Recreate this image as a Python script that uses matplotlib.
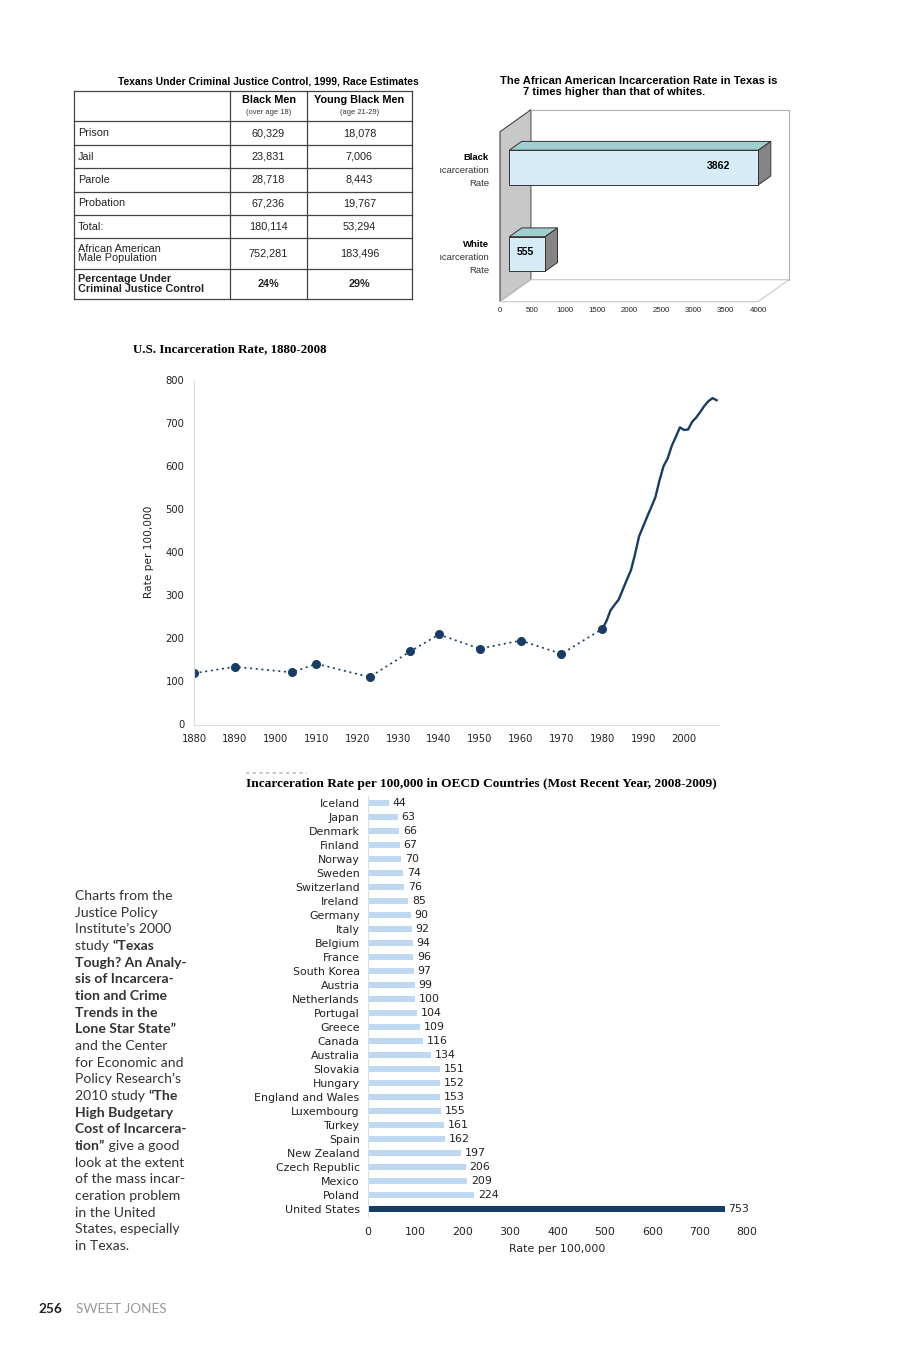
import numpy as np
import matplotlib.pyplot as plt
from matplotlib.patches import Polygon

W, H = 900, 1350

# ---------------- data ----------------
table_title = "Texans Under Criminal Justice Control, 1999, Race Estimates"
table_cols = ["Black Men", "Young Black Men"]
table_subcols = ["(over age 18)", "(age 21-29)"]
table_rows = ["Prison", "Jail", "Parole", "Probation", "Total:",
              "African American\nMale Population",
              "Percentage Under\nCriminal Justice Control"]
black_men = ["60,329", "23,831", "28,718", "67,236", "180,114", "752,281", "24%"]
young_black_men = ["18,078", "7,006", "8,443", "19,767", "53,294", "183,496", "29%"]

tx_groups = ["White", "Black"]
tx_rates = [555, 3862]
tx_ticks = [0, 500, 1000, 1500, 2000, 2500, 3000, 3500, 4000]

us_years_early = [1880, 1890, 1904, 1910, 1923, 1933, 1940, 1950, 1960, 1970, 1980]
us_rate_early = [119, 134, 121, 141, 110, 170, 209, 176, 195, 164, 222]
us_years_late = list(range(1980, 2009))
us_rate_late = [222, 240, 265, 278, 290, 313, 336, 358, 395, 437, 460, 483, 505,
                528, 567, 600, 618, 647, 668, 690, 684, 685, 703, 713, 726, 740,
                751, 758, 753]

oecd_countries = ["Iceland", "Japan", "Denmark", "Finland", "Norway", "Sweden",
                  "Switzerland", "Ireland", "Germany", "Italy", "Belgium", "France",
                  "South Korea", "Austria", "Netherlands", "Portugal", "Greece",
                  "Canada", "Australia", "Slovakia", "Hungary", "England and Wales",
                  "Luxembourg", "Turkey", "Spain", "New Zealand", "Czech Republic",
                  "Mexico", "Poland", "United States"]
oecd_rates = [44, 63, 66, 67, 70, 74, 76, 85, 90, 92, 94, 96, 97, 99, 100, 104,
              109, 116, 134, 151, 152, 153, 155, 161, 162, 197, 206, 209, 224, 753]

NAVY = "#173c66"
LIGHTBLUE = "#bdd8f0"


def box(left, top, right, bottom):
    # pixel box -> figure fraction
    return [left / W, 1 - bottom / H, (right - left) / W, (bottom - top) / H]


fig = plt.figure(figsize=(9, 13.5), dpi=100)
bg = fig.add_axes([0, 0, 1, 1])
bg.set_xlim(0, W)
bg.set_ylim(H, 0)
bg.axis("off")

# ---------------- table ----------------
sans = "Liberation Sans"
bg.text(268, 81, table_title, ha="center", va="center", fontsize=7.4,
        fontweight="bold", family=sans)
col_x = [74, 230, 307, 412]
row_y = [91, 121, 145, 168, 192, 215, 238, 269, 299]
for y in row_y:
    bg.plot([col_x[0], col_x[-1]], [y, y], color="#444444", lw=0.9)
for x in col_x:
    bg.plot([x, x], [row_y[0], row_y[-1]], color="#444444", lw=0.9)
for j in range(2):
    cx = (col_x[j + 1] + col_x[j + 2]) / 2
    bg.text(cx, 100, table_cols[j], ha="center", va="center", fontsize=7.8,
            fontweight="bold", family=sans)
    bg.text(cx, 112, table_subcols[j], ha="center", va="center", fontsize=5.4,
            family=sans, color="#333333")
for i, lab in enumerate(table_rows):
    yc = (row_y[i + 1] + row_y[i + 2]) / 2
    last = i == len(table_rows) - 1
    wt = "bold" if last else "normal"
    bg.text(78, yc, lab, ha="left", va="center", fontsize=7.8, family=sans,
            fontweight=wt, linespacing=0.9, color="#222222")
    for j, vals in enumerate([black_men, young_black_men]):
        cx = (col_x[j + 1] + col_x[j + 2]) / 2
        bg.text(cx, yc, vals[i], ha="center", va="center", fontsize=7.8,
                family=sans, fontweight=wt, color="#222222")

# ---------------- 3D bar chart (Texas) ----------------
bg.text(500, 81, "The African American Incarceration Rate in Texas is",
        ha="left", va="center", fontsize=8.1, fontweight="bold", family=sans)
bg.text(523, 92, "7 times higher than that of whites.",
        ha="left", va="center", fontsize=8.1, fontweight="bold", family=sans)

s = 258 / 4000          # px per unit
unit_y = 86.5           # px per category step
ax3 = fig.add_axes(box(440, 100, 800, 320))
ax3.set_xlim((440 - 500) / s, (800 - 500) / s)
ax3.set_ylim((254 - 320) / unit_y, (254 - 100) / unit_y)
ax3.axis("off")
dx = 31 / s
dy = 22 / unit_y
floor_y = (254 - 301.7) / unit_y
wall_top = (254 - 131.7) / unit_y
xmax = tx_ticks[-1]

ax3.add_patch(Polygon([(0, floor_y), (dx, floor_y + dy), (dx, wall_top + dy),
                       (0, wall_top)], closed=True, facecolor="#c8c8c8",
                      edgecolor="#444444", lw=0.8))
ax3.add_patch(Polygon([(dx, floor_y + dy), (xmax + dx, floor_y + dy),
                       (xmax + dx, wall_top + dy), (dx, wall_top + dy)],
                      closed=True, facecolor="white", edgecolor="#b0b0b0", lw=0.8))
ax3.add_patch(Polygon([(0, floor_y), (xmax, floor_y), (xmax + dx, floor_y + dy),
                       (dx, floor_y + dy)], closed=True, facecolor="white",
                      edgecolor="#c8c8c8", lw=0.8))

for k, (g, v) in enumerate(zip(tx_groups, tx_rates)):
    x0 = 0.3 * dx
    x1 = x0 + v
    lo, hi = k - 0.2, k + 0.2
    d = 0.4
    ax3.add_patch(Polygon([(x0, hi), (x1, hi), (x1 + d * dx, hi + d * dy),
                           (x0 + d * dx, hi + d * dy)], closed=True,
                          facecolor="#9fcfcf", edgecolor="#333333", lw=0.7))
    ax3.add_patch(Polygon([(x1, lo), (x1 + d * dx, lo + d * dy),
                           (x1 + d * dx, hi + d * dy), (x1, hi)], closed=True,
                          facecolor="#858585", edgecolor="#333333", lw=0.7))
    ax3.add_patch(Polygon([(x0, lo), (x1, lo), (x1, hi), (x0, hi)], closed=True,
                          facecolor="#d5ecf6", edgecolor="#333333", lw=0.7))
    ax3.text(x1 - min(40 / s, 0.55 * v), k + 0.02, str(v), ha="center",
             va="center", fontsize=7.6, fontweight="bold", family=sans)
    lx = -11 / s
    ax3.text(lx, k + 0.11, g, ha="right", va="center", fontsize=6.8,
             fontweight="bold", family=sans, clip_on=True)
    ax3.text(lx, k - 0.04, "Incarceration", ha="right", va="center",
             fontsize=6.8, family=sans, color="#333333", clip_on=True)
    ax3.text(lx, k - 0.19, "Rate", ha="right", va="center", fontsize=6.8,
             family=sans, color="#333333", clip_on=True)

for t in tx_ticks:
    ax3.text(t, (254 - 311) / unit_y, str(t), ha="center", va="center",
             fontsize=5.7, family=sans, color="#222222")

# ---------------- US incarceration line chart ----------------
bg.text(133, 349, "U.S. Incarceration Rate, 1880-2008", ha="left", va="center",
        fontsize=9.4, fontweight="bold", family="Liberation Serif")
ax1 = fig.add_axes(box(194, 380, 718.7, 724.5))
ax1.plot(us_years_early, us_rate_early, ls=(0, (1.2, 2.2)), lw=1.2, color=NAVY,
         marker="o", markersize=5.5)
ax1.plot(us_years_late, us_rate_late, color=NAVY, lw=1.7)
ax1.set_xlim(1880, 2008.5)
ax1.set_ylim(0, 800)
ax1.set_xticks(range(1880, 2001, 10))
ax1.set_yticks(range(0, 801, 100))
for sp in ["top", "right"]:
    ax1.spines[sp].set_visible(False)
for sp in ["left", "bottom"]:
    ax1.spines[sp].set_color("#dddddd")
    ax1.spines[sp].set_linewidth(0.8)
ax1.tick_params(length=0, labelsize=7.2, colors="#222222")
ax1.tick_params(axis="y", pad=7)
ax1.tick_params(axis="x", pad=7)
ax1.set_ylabel("Rate per 100,000", fontsize=7.6, color="#222222", labelpad=8)

# ---------------- OECD bar chart ----------------
bg.plot([246, 307], [773, 773], ls=(0, (2, 2)), color="#c0c0c0", lw=1.2)
bg.text(246, 784, "Incarceration Rate per 100,000 in OECD Countries (Most Recent Year, 2008-2009)",
        ha="left", va="center", fontsize=9.6, fontweight="bold",
        family="Liberation Serif")
ax2 = fig.add_axes(box(368, 796, 747, 1216))
ypos = np.arange(len(oecd_countries))
cols = [NAVY if c == "United States" else LIGHTBLUE for c in oecd_countries]
ax2.barh(ypos, oecd_rates, height=0.42, color=cols)
for y, v in zip(ypos, oecd_rates):
    ax2.text(v + 8, y, str(v), ha="left", va="center", fontsize=7.9,
             color="#222222")
ax2.set_xlim(0, 800)
ax2.set_ylim(len(oecd_countries) - 0.5, -0.5)
ax2.set_yticks(ypos)
ax2.set_yticklabels(oecd_countries)
ax2.set_xticks(range(0, 801, 100))
for sp in ["top", "right", "bottom"]:
    ax2.spines[sp].set_visible(False)
ax2.spines["left"].set_color("#dddddd")
ax2.spines["left"].set_linewidth(0.8)
ax2.tick_params(length=0, labelsize=7.9, colors="#222222")
ax2.tick_params(axis="y", pad=6)
ax2.tick_params(axis="x", pad=8)
ax2.set_xlabel("Rate per 100,000", fontsize=7.9, color="#222222", labelpad=5)

# ---------------- side text ----------------
side_lines = [
    [("Charts from the", "normal")],
    [("Justice Policy", "normal")],
    [("Institute\u2019s 2000", "normal")],
    [("study ", "normal"), ("\u201cTexas", "bold")],
    [("Tough? An Analy-", "bold")],
    [("sis of Incarcera-", "bold")],
    [("tion and Crime", "bold")],
    [("Trends in the", "bold")],
    [("Lone Star State\u201d", "bold")],
    [("and the Center", "normal")],
    [("for Economic and", "normal")],
    [("Policy Research\u2019s", "normal")],
    [("2010 study ", "normal"), ("\u201cThe", "bold")],
    [("High Budgetary", "bold")],
    [("Cost of Incarcera-", "bold")],
    [("tion\u201d", "bold"), (" give a good", "normal")],
    [("look at the extent", "normal")],
    [("of the mass incar-", "normal")],
    [("ceration problem", "normal")],
    [("in the United", "normal")],
    [("States, especially", "normal")],
    [("in Texas.", "normal")],
]
side_font = "Lato"
for i, segs in enumerate(side_lines):
    y = 896 + i * 16.66
    prev = None
    for txt, wt in segs:
        if prev is None:
            prev = bg.text(75, y, txt, ha="left", va="center", fontsize=10.1,
                           fontweight=wt, family=side_font, color="#333333")
        else:
            prev = bg.annotate(txt, xy=(1, 0.5), xycoords=prev, ha="left",
                               va="center", fontsize=10.1, fontweight=wt,
                               family=side_font, color="#333333")

# ---------------- footer ----------------
bg.text(38, 1309, "256", ha="left", va="center", fontsize=9.8,
        fontweight="bold", family=side_font, color="#222222")
bg.text(76, 1309, "SWEET JONES", ha="left", va="center", fontsize=9.8,
        family=side_font, color="#999999")

fig.savefig("out.png", dpi=100)
